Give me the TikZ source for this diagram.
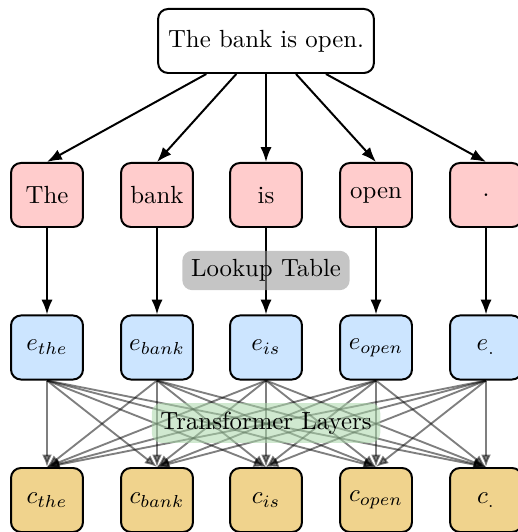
\documentclass[tikz,border=0pt]{standalone}
\usetikzlibrary{arrows.meta}
\definecolor{wordfill}{RGB}{255,204,204}
\definecolor{embfill}{RGB}{204,229,255}
\definecolor{ctxfill}{RGB}{240,211,141}
\definecolor{lookfill}{RGB}{150,150,150}
\definecolor{trfill}{RGB}{170,215,170}
\begin{document}
\begin{tikzpicture}[x=0.403pt,y=-0.403pt,
  basebox/.style={draw,thick,rounded corners=4pt,minimum width=29pt,minimum height=25.8pt,inner sep=3.3pt},
  wordbox/.style={basebox,fill=wordfill},
  embbox/.style={basebox,fill=embfill},
  ctxbox/.style={basebox,fill=ctxfill},
  topbox/.style={draw,thick,rounded corners=4pt,fill=white,minimum height=25.8pt,inner xsep=4pt},
  blackarrow/.style={thick,-{Latex[length=6pt,width=4.5pt]}},
  grayarrow/.style={draw=black,draw opacity=0.5,fill opacity=0.5,line width=0.75pt,-{Latex[length=5pt,width=4pt]}},
  labelbox/.style={rounded corners=4pt,inner sep=3.5pt,fill opacity=0.55,text opacity=1}
]
\useasboundingbox (0,0) rectangle (517,532);
\node[topbox] (s) at (266,41) {The bank is open.};
\foreach \i/\x/\w/\e/\c in {1/47/The/{e_{the}}/{c_{the}},2/157/bank/{e_{bank}}/{c_{bank}},3/266/is/{e_{is}}/{c_{is}},4/376/open/{e_{open}}/{c_{open}},5/486/./{e_{.}}/{c_{.}}}{
  \node[wordbox] (w\i) at (\x,195) {\w};
  \node[embbox] (e\i) at (\x,347.5) {$\e$};
  \node[ctxbox] (c\i) at (\x,500) {$\c$};
  \draw[blackarrow] (s) -- (w\i.north);
  \draw[blackarrow] (w\i) -- (e\i);
}
\node[labelbox,fill=lookfill] (lt) at (266,270.5) {Lookup Table};
\foreach \i in {1,...,5}{
  \foreach \j in {1,...,5}{
    \draw[grayarrow] (e\i.south) -- (c\j.north);
  }
}
\node[labelbox,fill=trfill] (tl) at (266,423) {Transformer Layers};
\end{tikzpicture}
\end{document}
